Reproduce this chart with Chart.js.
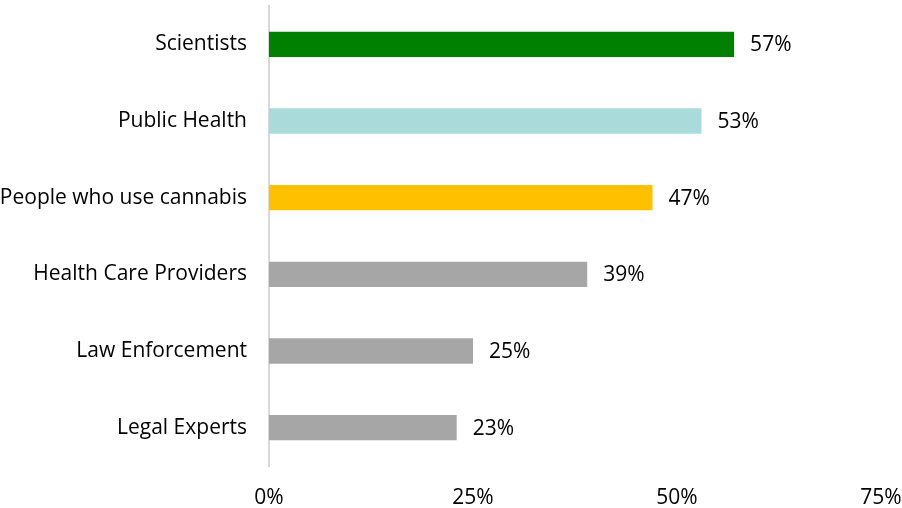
<!DOCTYPE html>
<html>
<head>
<meta charset="utf-8">
<script src="https://cdn.jsdelivr.net/npm/chart.js@4"></script>
<style>
  html, body { margin: 0; padding: 0; background: #fff; }
  #wrap { width: 902px; height: 508px; }
</style>
</head>
<body>
<div id="wrap"><canvas id="myChart"></canvas></div>
<script>
  const categories = [
    'Scientists',
    'Public Health',
    'People who use cannabis',
    'Health Care Providers',
    'Law Enforcement',
    'Legal Experts',
  ];
  const values = [57, 53, 47, 39, 25, 23];
  const barColors = ['#008000', '#a8dbd9', '#ffc000', '#a6a6a6', '#a6a6a6', '#a6a6a6'];
  const xTicks = [0, 25, 50, 75];

  const FONT = '"Open Sans", sans-serif';
  const FONT_SIZE = 21;

  // value labels to the right of each bar
  const barLabels = {
    id: 'barLabels',
    afterDatasetsDraw(chart) {
      const ctx = chart.ctx;
      const meta = chart.getDatasetMeta(0);
      ctx.save();
      ctx.font = FONT_SIZE + 'px ' + FONT;
      ctx.fillStyle = '#000';
      ctx.textAlign = 'left';
      ctx.textBaseline = 'middle';
      meta.data.forEach((bar, i) => {
        ctx.fillText(values[i] + '%', bar.x + 16, bar.y + 1);
      });
      ctx.restore();
    }
  };

  const data = {
    labels: categories,
    datasets: [{
      data: values,
      backgroundColor: barColors,
      borderWidth: 0,
      barPercentage: 0.33,
      categoryPercentage: 1,
    }]
  };

  const config = {
    type: 'bar',
    data,
    options: {
      indexAxis: 'y',
      responsive: true,
      maintainAspectRatio: false,
      animation: false,
      layout: { padding: { top: 6, right: 0, left: 0, bottom: 0 } },
      plugins: {
        legend: { display: false },
        tooltip: { enabled: false },
      },
      scales: {
        x: {
          min: 0,
          max: 75,
          afterBuildTicks(scale) {
            scale.ticks = xTicks.map(v => ({ value: v }));
          },
          afterFit(scale) {
            scale.height = 42;
            scale.paddingLeft = 0;
            scale.paddingRight = 21;
          },
          grid: { display: false },
          border: { display: false },
          ticks: {
            padding: 11,
            maxRotation: 0,
            minRotation: 0,
            autoSkip: false,
            color: '#000',
            font: { family: FONT, size: FONT_SIZE },
            callback: v => v + '%',
          },
        },
        y: {
          afterFit(scale) {
            scale.width = 269;
            scale.paddingTop = 0;
            scale.paddingBottom = 0;
          },
          grid: { display: false, drawTicks: false },
          border: { display: true, color: '#d9d9d9', width: 2 },
          ticks: {
            padding: 22,
            color: '#000',
            font: { family: FONT, size: FONT_SIZE },
          },
        },
      },
    },
    plugins: [barLabels],
  };

  const myChart = new Chart(document.getElementById('myChart'), config);
</script>
</body>
</html>
